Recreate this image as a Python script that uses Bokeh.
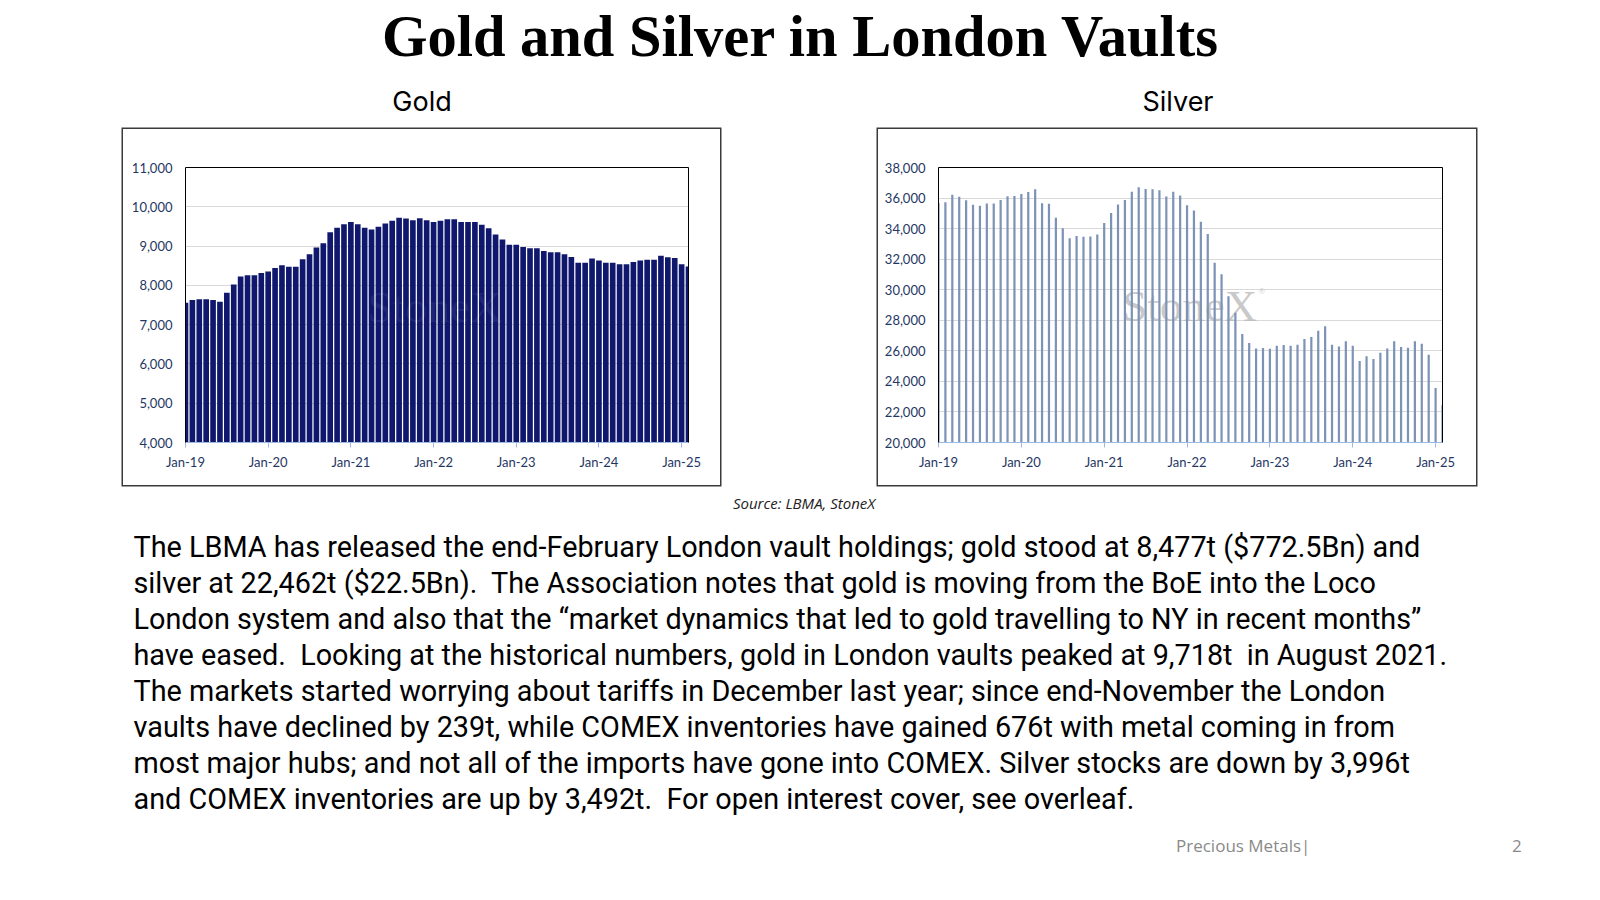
from bokeh.plotting import figure
from bokeh.models import (Div, Spacer, FixedTicker, NumeralTickFormatter, LinearAxis,
                          Range1d)
from bokeh.layouts import column, row
from bokeh.core.properties import value
from bokeh.embed import file_html
from bokeh.resources import INLINE

# ---------------- data ----------------
month_names = ["Jan", "Feb", "Mar", "Apr", "May", "Jun",
               "Jul", "Aug", "Sep", "Oct", "Nov", "Dec"]
years = ["19", "20", "21", "22", "23", "24", "25"]
months = [m + "-" + y for y in years for m in month_names][:74]   # Jan-19 .. Feb-25

gold_tonnes = [
    7560, 7625, 7645, 7645, 7625, 7585, 7815, 8025, 8225, 8255, 8255, 8315,
    8355, 8445, 8515, 8475, 8475, 8665, 8795, 8965, 9075, 9355, 9465, 9555,
    9615, 9555, 9465, 9425, 9495, 9575, 9645, 9718, 9705, 9655, 9710, 9655,
    9615, 9645, 9685, 9685, 9615, 9615, 9615, 9545, 9455, 9295, 9165, 9035,
    9035, 8975, 8945, 8945, 8875, 8845, 8845, 8795, 8725, 8575, 8575, 8685,
    8635, 8575, 8575, 8535, 8535, 8595, 8635, 8655, 8655, 8755, 8716, 8695,
    8535, 8477,
]

silver_tonnes = [
    35680, 35730, 36210, 36080, 35860, 35560, 35490, 35640, 35640, 35880, 36120, 36140,
    36270, 36400, 36570, 35660, 35620, 34710, 34020, 33370, 33520, 33460, 33480, 33610,
    34370, 35020, 35580, 35880, 36420, 36700, 36590, 36570, 36510, 36100, 36420, 36160,
    35530, 35190, 34450, 33650, 31770, 31010, 29580, 28500, 27110, 26510, 26160, 26180,
    26140, 26330, 26380, 26330, 26400, 26770, 26900, 27310, 27610, 26400, 26290, 26620,
    26330, 25340, 25640, 25470, 25880, 26160, 26620, 26250, 26210, 26620, 26458, 25750,
    23570, 22462,
]

tick_labels = ["Jan-19", "Jan-20", "Jan-21", "Jan-22", "Jan-23", "Jan-24", "Jan-25"]

TITLE = "Gold and Silver in London Vaults"
SUBTITLES = ["Gold", "Silver"]
SOURCE = "Source: LBMA, StoneX"
BODY = [
    "The LBMA has released the end-February London vault holdings; gold stood at 8,477t ($772.5Bn) and",
    "silver at 22,462t ($22.5Bn).  The Association notes that gold is moving from the BoE into the Loco",
    "London system and also that the \u201cmarket dynamics that led to gold travelling to NY in recent months\u201d",
    "have eased.  Looking at the historical numbers, gold in London vaults peaked at 9,718t  in August 2021.",
    "The markets started worrying about tariffs in December last year; since end-November the London",
    "vaults have declined by 239t, while COMEX inventories have gained 676t with metal coming in from",
    "most major hubs; and not all of the imports have gone into COMEX. Silver stocks are down by 3,996t",
    "and COMEX inventories are up by 3,492t.  For open interest cover, see overleaf.",
]
FOOTER = "Precious Metals|"
PAGE_NO = "2"

# ---------------- styling ----------------
AXIS_TEXT = "#1f3763"
AXIS_FONT = "Lato"
GRID = "#d9d9d9"
XAXIS_LINE = "#9dbbe0"
BOX = {"box-shadow": "0 0 0 1.5px #3a3a3a"}


def make_chart(vals, color, bar_w, ymin, ymax, ystep, w, h, bl, br, bt, bb,
               wm_x, wm_y, wm_color, wm_alpha, wm_front):
    xs = list(range(len(vals)))
    p = figure(width=w, height=h, output_backend="svg", toolbar_location=None,
               x_range=Range1d(0, len(vals) - 1), y_range=Range1d(ymin, ymax),
               min_border_left=bl, min_border_right=br, min_border_top=bt,
               min_border_bottom=bb, styles=BOX)
    p.background_fill_color = "white"
    p.border_fill_color = "white"
    p.outline_line_color = None
    p.xgrid.visible = False
    p.ygrid.grid_line_color = GRID
    p.ygrid.grid_line_width = 1

    def watermark():
        p.text(x=[wm_x], y=[wm_y], text=["StoneX"],
               text_font=value("Liberation Serif"), text_font_size="45px",
               text_align="center", text_baseline="middle",
               text_color=wm_color, text_alpha=wm_alpha)
        p.text(x=[wm_x + 9.9], y=[wm_y + 950], text=["\u00ae"],
               text_font=value("Liberation Serif"), text_font_size="9px",
               text_align="left", text_baseline="middle",
               text_color=wm_color, text_alpha=wm_alpha)

    if not wm_front:
        watermark()
    p.vbar(x=xs, top=vals, bottom=ymin, width=bar_w, fill_color=color,
           line_color=None)
    if wm_front:
        watermark()

    # y axis (left)
    ya = p.yaxis[0]
    ya.ticker = FixedTicker(ticks=list(range(ymin, ymax + 1, ystep)))
    ya.formatter = NumeralTickFormatter(format="0,0")
    ya.axis_line_color = "black"
    ya.axis_line_width = 1
    ya.major_tick_out = 0
    ya.major_tick_in = 0
    ya.minor_tick_out = 0
    ya.minor_tick_in = 0
    ya.major_label_standoff = 13
    ya.major_label_text_font = AXIS_FONT
    ya.major_label_text_font_size = "13px"
    ya.major_label_text_color = AXIS_TEXT

    # x axis (bottom)
    xa = p.xaxis[0]
    xa.ticker = FixedTicker(ticks=[0, 12, 24, 36, 48, 60, 72])
    xa.major_label_overrides = {i * 12: t for i, t in enumerate(tick_labels)}
    xa.axis_line_color = XAXIS_LINE
    xa.axis_line_width = 1
    xa.major_tick_line_color = XAXIS_LINE
    xa.major_tick_out = 5
    xa.major_tick_in = 0
    xa.minor_tick_out = 0
    xa.minor_tick_in = 0
    xa.major_label_standoff = 6
    xa.major_label_text_font = AXIS_FONT
    xa.major_label_text_font_size = "13px"
    xa.major_label_text_color = AXIS_TEXT

    # top and right frame edges
    for side in ("above", "right"):
        ax = LinearAxis(ticker=FixedTicker(ticks=[]), axis_line_color="black",
                        axis_line_width=1, major_tick_out=0, major_tick_in=0,
                        minor_tick_out=0, minor_tick_in=0,
                        major_label_text_font_size="0px")
        p.add_layout(ax, side)
    return p


gold = make_chart(gold_tonnes, "#10186e", 0.82, 4000, 11000, 1000,
                  597, 356, 62, 32, 38, 43, 36.2, 7450, "white", 0.07, True)
silver = make_chart(silver_tonnes, "#7c92b6", 0.32, 20000, 38000, 2000,
                    598, 356, 60, 34, 38, 41, 36.4, 28940, "#b8b8b8", 0.75, False)

# ---------------- page text ----------------
top_html = (
    '<div style="position:relative;width:1584px;height:119px;margin:0;padding:0;">'
    '<div style="position:absolute;left:3px;top:3px;width:1584px;text-align:center;'
    'font-family:\'Liberation Serif\';font-weight:bold;font-size:58.5px;line-height:58.5px;'
    'color:#000;white-space:nowrap;">' + TITLE + '</div>'
    '<div style="position:absolute;left:317px;top:83px;width:200px;text-align:center;'
    'font-family:Inter;font-size:27px;line-height:27px;color:#000;">' + SUBTITLES[0] + '</div>'
    '<div style="position:absolute;left:1073px;top:83px;width:200px;text-align:center;'
    'font-family:Inter;font-size:27px;line-height:27px;color:#000;">' + SUBTITLES[1] + '</div>'
    '</div>'
)
top_div = Div(text=top_html, width=1584, height=119, disable_math=True)

body_text = "\n".join(BODY)
bottom_html = (
    '<div style="position:relative;width:1584px;height:398px;margin:0;padding:0;">'
    '<div style="position:absolute;left:649px;top:4px;width:300px;text-align:center;'
    'font-family:\'Open Sans\';font-style:italic;font-size:15px;line-height:18px;'
    'color:#222;white-space:nowrap;">' + SOURCE + '</div>'
    '<div style="position:absolute;left:128.5px;top:38.5px;'
    'font-family:Roboto;font-size:28.8px;line-height:36px;color:#000;'
    'white-space:pre;">' + body_text + '</div>'
    '<div style="position:absolute;left:1171px;top:344px;'
    'font-family:\'Open Sans\';font-size:17px;line-height:24px;color:#8a8a8a;'
    'white-space:pre;">' + FOOTER + '</div>'
    '<div style="position:absolute;left:1507px;top:344px;'
    'font-family:\'Open Sans\';font-size:17px;line-height:24px;color:#8a8a8a;'
    'white-space:pre;">' + PAGE_NO + '</div>'
    '</div>'
)
bottom_div = Div(text=bottom_html, width=1584, height=398, disable_math=True)

charts = row(Spacer(width=123, height=356), gold, Spacer(width=158, height=356), silver)
layout = column(top_div, charts, bottom_div)

open("out.html", "w").write(file_html(layout, INLINE))
